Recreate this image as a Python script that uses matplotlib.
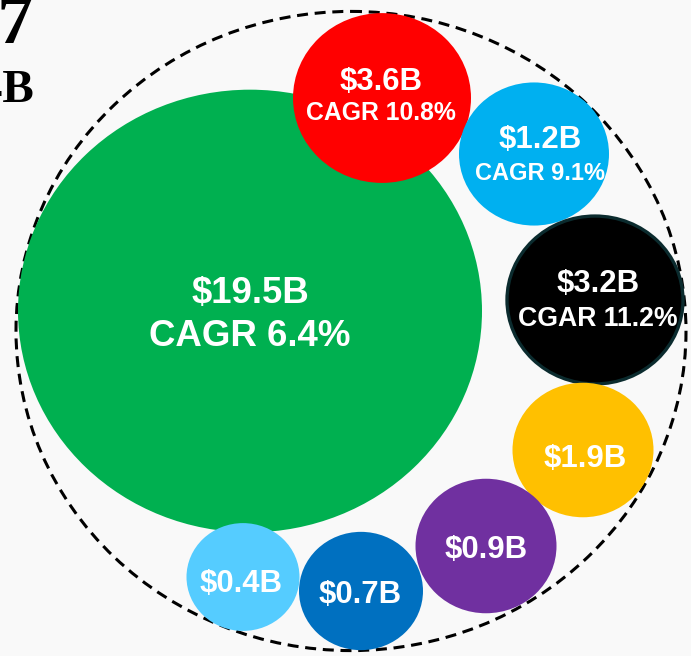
import matplotlib.pyplot as plt
from matplotlib.patches import Ellipse

# market size per segment ($B) and growth labels
values = [19.5, 3.6, 1.2, 3.2, 1.9, 0.9, 0.7, 0.4]
growth = ["CAGR 6.4%", "CAGR 10.8%", "CAGR 9.1%", "CGAR 11.2%", None, None, None, None]
colors = ["#00B050", "#FF0000", "#00B0F0", "#000000", "#FFC000", "#7030A0", "#0070C0", "#55CCFF"]

# bubble layout in pixels (center x, center y, diameter)
layout = [(250, 311, 464), (382, 98, 178), (534, 154, 150), (595, 300, 176),
          (583, 450, 141), (486, 546, 141), (361, 591, 124), (243, 577, 113)]
# text baselines (value line, growth line) and sizes
text_y = [(303, 346), (90, 120), (148, 180), (292, 326), (467, None), (558, None),
          (603, None), (592, None)]
text_x = [250, 381, 540, 598, 585, 486, 360, 241]
value_size = [26.4, 22.4, 22.4, 22.4, 22.4, 22.4, 22.4, 22.4]
growth_size = [26.4, 17.8, 17.0, 19.2, 0, 0, 0, 0]

SQ = 0.954  # picture is slightly squashed vertically

fig = plt.figure(figsize=(6.91, 6.56), dpi=100)
fig.patch.set_facecolor("#F9F9F9")
ax = fig.add_axes([0, 0, 1, 1])
ax.set_xlim(0, 691)
ax.set_ylim(656, 0)
ax.axis("off")

# outer dashed ring
ring = Ellipse((351, 331), 670, 670 * SQ, fill=False, edgecolor="black",
               linewidth=2.2, linestyle=(0, (3.6, 2.2)), zorder=1)
ax.add_patch(ring)

for i, v in enumerate(values):
    cx, cy, d = layout[i]
    edge = "#0B2B2E" if colors[i] == "#000000" else "none"
    ax.add_patch(Ellipse((cx, cy), d, d * SQ, facecolor=colors[i], edgecolor=edge,
                         linewidth=2.4, zorder=2 + i))
    y1, y2 = text_y[i]
    ax.text(text_x[i], y1, "$%.1fB" % v, color="white", fontsize=value_size[i],
            fontweight="bold", family="Liberation Sans", ha="center", va="baseline",
            zorder=20)
    if growth[i]:
        ax.text(text_x[i], y2, growth[i], color="white", fontsize=growth_size[i],
                fontweight="bold", family="Liberation Sans", ha="center", va="baseline",
                zorder=20)

# cut-off title text at the top left
ax.text(34, 44, "2027", fontsize=52, family="Liberation Serif", fontweight="bold",
        ha="right", va="baseline")
ax.text(34, 102, "$27.4B", fontsize=34, family="Liberation Serif", fontweight="bold",
        ha="right", va="baseline")

fig.savefig("out.png", dpi=100, facecolor=fig.get_facecolor())
